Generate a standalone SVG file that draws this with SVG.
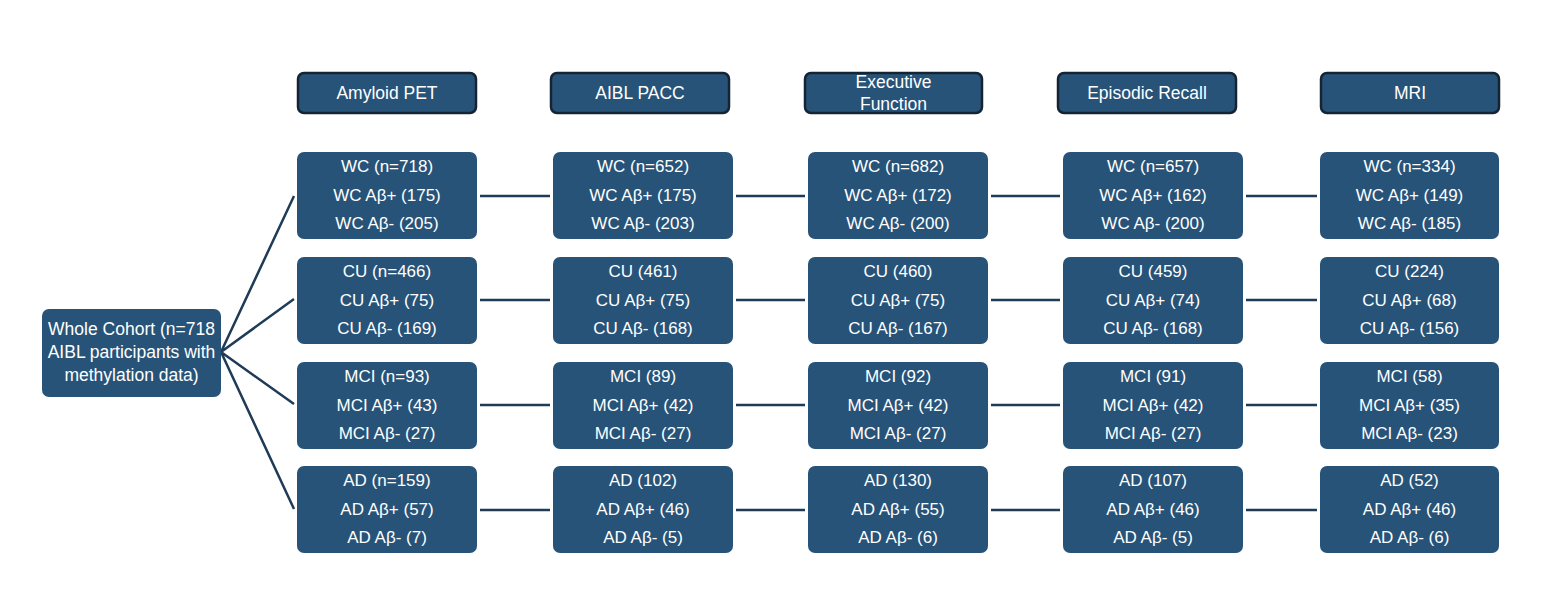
<svg xmlns="http://www.w3.org/2000/svg" width="1547" height="614" viewBox="0 0 1547 614">
<style>
.box{fill:#275379;}
.hdr{fill:#275379;stroke:#142434;stroke-width:2.5;}
text{font-family:"Liberation Sans",Arial,sans-serif;font-size:17px;fill:#ffffff;text-anchor:middle;}
.h{font-size:17.5px;}
.con{stroke:#1f3b57;stroke-width:2.5;fill:none;}
</style>
<rect width="1547" height="614" fill="#ffffff"/>
<g id="connectors">
<path class="con" d="M221,352 L294,196 M221,352 L294,299 M221,352 L294,404 M221,352 L294,509"/>
<path class="con" d="M480,196 H550 M736,196 H805 M991,196 H1060 M1246,196 H1317"/>
<path class="con" d="M480,300 H550 M736,300 H805 M991,300 H1060 M1246,300 H1317"/>
<path class="con" d="M480,405 H550 M736,405 H805 M991,405 H1060 M1246,405 H1317"/>
<path class="con" d="M480,510 H550 M736,510 H805 M991,510 H1060 M1246,510 H1317"/>
</g>
<g id="whole"><rect class="box" x="42" y="309" width="179" height="88" rx="7"/>
<text class="h" x="131.5" y="335">Whole Cohort (n=718</text><text class="h" x="131.5" y="358">AIBL participants with</text><text class="h" x="131.5" y="381">methylation data)</text></g>
<g id="h1"><rect class="hdr" x="298" y="73" width="178" height="40" rx="6"/><text class="h" x="387" y="99">Amyloid PET</text></g>
<g id="h2"><rect class="hdr" x="551" y="73" width="178" height="40" rx="6"/><text class="h" x="640" y="99">AIBL PACC</text></g>
<g id="h3"><rect class="hdr" x="805" y="73" width="177" height="40" rx="6"/><text class="h" x="893.5" y="88">Executive</text><text class="h" x="893.5" y="110">Function</text></g>
<g id="h4"><rect class="hdr" x="1058" y="73" width="178" height="40" rx="6"/><text class="h" x="1147" y="99">Episodic Recall</text></g>
<g id="h5"><rect class="hdr" x="1321" y="73" width="178" height="40" rx="6"/><text class="h" x="1410" y="99">MRI</text></g>

<g id="c1r1"><rect class="box" x="297" y="152" width="180" height="87" rx="7"/><text x="387" y="172">WC (n=718)</text><text x="387" y="201">WC Aβ+ (175)</text><text x="387" y="229">WC Aβ- (205)</text></g>
<g id="c2r1"><rect class="box" x="553" y="152" width="180" height="87" rx="7"/><text x="643" y="172">WC (n=652)</text><text x="643" y="201">WC Aβ+ (175)</text><text x="643" y="229">WC Aβ- (203)</text></g>
<g id="c3r1"><rect class="box" x="808" y="152" width="180" height="87" rx="7"/><text x="898" y="172">WC (n=682)</text><text x="898" y="201">WC Aβ+ (172)</text><text x="898" y="229">WC Aβ- (200)</text></g>
<g id="c4r1"><rect class="box" x="1063" y="152" width="180" height="87" rx="7"/><text x="1153" y="172">WC (n=657)</text><text x="1153" y="201">WC Aβ+ (162)</text><text x="1153" y="229">WC Aβ- (200)</text></g>
<g id="c5r1"><rect class="box" x="1320" y="152" width="179" height="87" rx="7"/><text x="1409.5" y="172">WC (n=334)</text><text x="1409.5" y="201">WC Aβ+ (149)</text><text x="1409.5" y="229">WC Aβ- (185)</text></g>

<g id="c1r2"><rect class="box" x="297" y="257" width="180" height="87" rx="7"/><text x="387" y="277">CU (n=466)</text><text x="387" y="306">CU Aβ+ (75)</text><text x="387" y="334">CU Aβ- (169)</text></g>
<g id="c2r2"><rect class="box" x="553" y="257" width="180" height="87" rx="7"/><text x="643" y="277">CU (461)</text><text x="643" y="306">CU Aβ+ (75)</text><text x="643" y="334">CU Aβ- (168)</text></g>
<g id="c3r2"><rect class="box" x="808" y="257" width="180" height="87" rx="7"/><text x="898" y="277">CU (460)</text><text x="898" y="306">CU Aβ+ (75)</text><text x="898" y="334">CU Aβ- (167)</text></g>
<g id="c4r2"><rect class="box" x="1063" y="257" width="180" height="87" rx="7"/><text x="1153" y="277">CU (459)</text><text x="1153" y="306">CU Aβ+ (74)</text><text x="1153" y="334">CU Aβ- (168)</text></g>
<g id="c5r2"><rect class="box" x="1320" y="257" width="179" height="87" rx="7"/><text x="1409.5" y="277">CU (224)</text><text x="1409.5" y="306">CU Aβ+ (68)</text><text x="1409.5" y="334">CU Aβ- (156)</text></g>

<g id="c1r3"><rect class="box" x="297" y="362" width="180" height="87" rx="7"/><text x="387" y="382">MCI (n=93)</text><text x="387" y="411">MCI Aβ+ (43)</text><text x="387" y="439">MCI Aβ- (27)</text></g>
<g id="c2r3"><rect class="box" x="553" y="362" width="180" height="87" rx="7"/><text x="643" y="382">MCI (89)</text><text x="643" y="411">MCI Aβ+ (42)</text><text x="643" y="439">MCI Aβ- (27)</text></g>
<g id="c3r3"><rect class="box" x="808" y="362" width="180" height="87" rx="7"/><text x="898" y="382">MCI (92)</text><text x="898" y="411">MCI Aβ+ (42)</text><text x="898" y="439">MCI Aβ- (27)</text></g>
<g id="c4r3"><rect class="box" x="1063" y="362" width="180" height="87" rx="7"/><text x="1153" y="382">MCI (91)</text><text x="1153" y="411">MCI Aβ+ (42)</text><text x="1153" y="439">MCI Aβ- (27)</text></g>
<g id="c5r3"><rect class="box" x="1320" y="362" width="179" height="87" rx="7"/><text x="1409.5" y="382">MCI (58)</text><text x="1409.5" y="411">MCI Aβ+ (35)</text><text x="1409.5" y="439">MCI Aβ- (23)</text></g>

<g id="c1r4"><rect class="box" x="297" y="466" width="180" height="87" rx="7"/><text x="387" y="486">AD (n=159)</text><text x="387" y="515">AD Aβ+ (57)</text><text x="387" y="543">AD Aβ- (7)</text></g>
<g id="c2r4"><rect class="box" x="553" y="466" width="180" height="87" rx="7"/><text x="643" y="486">AD (102)</text><text x="643" y="515">AD Aβ+ (46)</text><text x="643" y="543">AD Aβ- (5)</text></g>
<g id="c3r4"><rect class="box" x="808" y="466" width="180" height="87" rx="7"/><text x="898" y="486">AD (130)</text><text x="898" y="515">AD Aβ+ (55)</text><text x="898" y="543">AD Aβ- (6)</text></g>
<g id="c4r4"><rect class="box" x="1063" y="466" width="180" height="87" rx="7"/><text x="1153" y="486">AD (107)</text><text x="1153" y="515">AD Aβ+ (46)</text><text x="1153" y="543">AD Aβ- (5)</text></g>
<g id="c5r4"><rect class="box" x="1320" y="466" width="179" height="87" rx="7"/><text x="1409.5" y="486">AD (52)</text><text x="1409.5" y="515">AD Aβ+ (46)</text><text x="1409.5" y="543">AD Aβ- (6)</text></g>
</svg>
